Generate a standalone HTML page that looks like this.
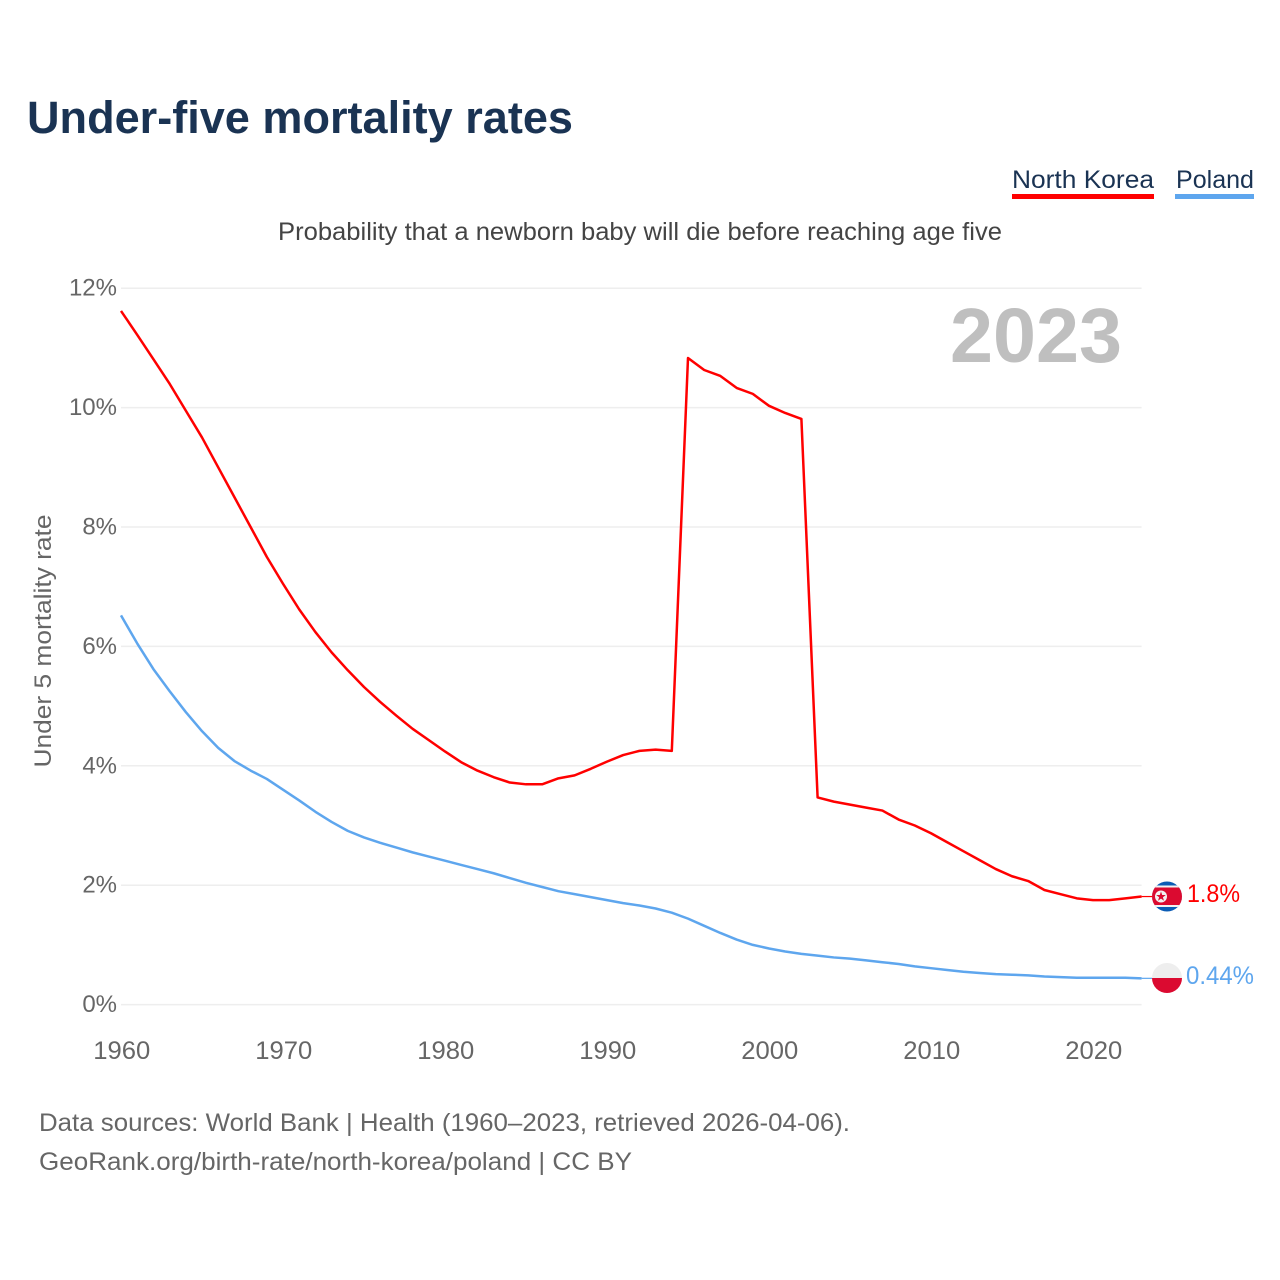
<!DOCTYPE html>
<html lang="en">
<head>
<meta charset="utf-8">
<title>Under-five mortality rates</title>
<style>
html,body{margin:0;padding:0;background:#fff;width:1280px;height:1280px;overflow:hidden}
svg{display:block}
text{font-family:"Liberation Sans",sans-serif}
</style>
</head>
<body>
<svg id="chart" xmlns="http://www.w3.org/2000/svg" width="1280" height="1280" viewBox="0 0 1280 1280">
  <defs>
    <clipPath id="clip-nk"><circle cx="1167" cy="896.5" r="15"/></clipPath>
    <clipPath id="clip-pl"><circle cx="1167" cy="978" r="15"/></clipPath>
  </defs>
  <text x="27" y="133" font-size="45" font-weight="700" fill="#1a3353" textLength="546" lengthAdjust="spacingAndGlyphs">Under-five mortality rates</text>

  <text x="1012" y="188" font-size="25" fill="#1a3353" textLength="142" lengthAdjust="spacingAndGlyphs">North Korea</text>
  <rect x="1012" y="194" width="142" height="5" fill="#ff0000"/>
  <text x="1176" y="188" font-size="25" fill="#1a3353" textLength="78" lengthAdjust="spacingAndGlyphs">Poland</text>
  <rect x="1175" y="194" width="79" height="5" fill="#5ea6ee"/>

  <text x="278" y="240" font-size="25" fill="#444" textLength="724" lengthAdjust="spacingAndGlyphs">Probability that a newborn baby will die before reaching age five</text>

  <g id="grid"></g>
  <g id="yticks"></g>
  <g id="xticks"></g>

  <text transform="translate(51,641) rotate(-90)" text-anchor="middle" font-size="24.5" fill="#666" textLength="253" lengthAdjust="spacingAndGlyphs">Under 5 mortality rate</text>

  <text x="950" y="362" font-size="77" font-weight="700" fill="#bfbfbf" textLength="172" lengthAdjust="spacingAndGlyphs">2023</text>

  <g id="series"></g>

  <g clip-path="url(#clip-nk)">
    <rect x="1150" y="880" width="34" height="34" fill="#0b5cb5"/>
    <rect x="1150" y="885.5" width="34" height="21.5" fill="#f2f2f2"/>
    <rect x="1150" y="887.5" width="34" height="17.5" fill="#db0a30"/>
    <circle cx="1161" cy="896.5" r="6" fill="#f2f2f2"/>
    <polygon points="1161,891.5 1162.2,895 1165.8,895 1162.9,897.2 1164,900.7 1161,898.6 1158,900.7 1159.1,897.2 1156.2,895 1159.8,895" fill="#db0a30"/>
  </g>
  <g clip-path="url(#clip-pl)">
    <rect x="1150" y="962" width="34" height="16" fill="#eeeeee"/>
    <rect x="1150" y="978" width="34" height="17" fill="#db0a30"/>
  </g>

  <text x="1187" y="902" font-size="25" fill="#ff0000" textLength="53" lengthAdjust="spacingAndGlyphs">1.8%</text>
  <text x="1186" y="984" font-size="25" fill="#5ea6ee" textLength="68" lengthAdjust="spacingAndGlyphs">0.44%</text>

  <text x="39" y="1131" font-size="25" fill="#666" textLength="811" lengthAdjust="spacingAndGlyphs">Data sources: World Bank | Health (1960–2023, retrieved 2026-04-06).</text>
  <text x="39" y="1170" font-size="25" fill="#666" textLength="593" lengthAdjust="spacingAndGlyphs">GeoRank.org/birth-rate/north-korea/poland | CC BY</text>
</svg>
<script>
const startYear = 1960;
const northKorea = [11.62,11.22,10.81,10.4,9.95,9.5,9.0,8.5,8.0,7.5,7.05,6.62,6.24,5.9,5.6,5.32,5.07,4.84,4.62,4.43,4.24,4.06,3.92,3.81,3.72,3.69,3.69,3.79,3.84,3.95,4.07,4.18,4.25,4.27,4.25,10.83,10.63,10.53,10.33,10.23,10.03,9.91,9.81,3.47,3.4,3.35,3.3,3.25,3.1,3.0,2.87,2.72,2.57,2.42,2.27,2.15,2.07,1.92,1.85,1.78,1.75,1.75,1.78,1.81];
const poland = [6.52,6.05,5.62,5.25,4.9,4.58,4.3,4.08,3.92,3.78,3.6,3.42,3.23,3.06,2.91,2.8,2.71,2.63,2.55,2.48,2.41,2.34,2.27,2.2,2.12,2.04,1.97,1.9,1.85,1.8,1.75,1.7,1.66,1.61,1.54,1.44,1.32,1.2,1.09,1.0,0.94,0.89,0.85,0.82,0.79,0.77,0.74,0.71,0.68,0.64,0.61,0.58,0.55,0.53,0.51,0.5,0.49,0.47,0.46,0.45,0.45,0.45,0.45,0.44];
const yTickValues = [0,2,4,6,8,10,12];
const xTickValues = [1960,1970,1980,1990,2000,2010,2020];

const NS = 'http://www.w3.org/2000/svg';
function xScale(year){ return 121 + (year - 1960) * 16.2; }
function yScale(v){ return 1004.6 - v * 59.7; }
function make(tag, parent, attrs, txt){
  const el = document.createElementNS(NS, tag);
  for (const k in attrs) el.setAttribute(k, attrs[k]);
  if (txt !== undefined) el.textContent = txt;
  parent.appendChild(el);
  return el;
}
const gridG = document.getElementById('grid');
const yG = document.getElementById('yticks');
const xG = document.getElementById('xticks');
const seriesG = document.getElementById('series');

yTickValues.forEach(function(v){
  const line = make('line', gridG, {x1:121, x2:xScale(2023), y1:yScale(v), y2:yScale(v), stroke:'#eeeeee', 'stroke-width':1.5});
  
  
  const label = make('text', yG, {x:117, y:yScale(v)+7.5, 'text-anchor':'end', 'font-size':24, fill:'#666'}, v + '%');
  
  
});
xTickValues.forEach(function(y){
  const label = make('text', xG, {x:xScale(y)+0.8, y:1059, 'text-anchor':'middle', 'font-size':25, fill:'#666', textLength:57, lengthAdjust:'spacingAndGlyphs'}, String(y));
  
  
});
function pathFor(values){
  return values.map(function(v, i){
    return (i ? 'L' : 'M') + xScale(startYear + i).toFixed(2) + ' ' + yScale(v).toFixed(2);
  }).join(' ');
}
function drawSeries(values, color, name){
  const p = make('path', seriesG, {d:pathFor(values), fill:'none', stroke:color, 'stroke-width':2.5, 'stroke-linejoin':'round'});
  
  
  const lastY = yScale(values[values.length - 1]);
  const c = make('line', seriesG, {x1:xScale(startYear + values.length - 1), x2:1152, y1:lastY, y2:lastY, stroke:color, 'stroke-width':1.2});
  
  
}
drawSeries(northKorea, '#ff0000', 'north-korea');
drawSeries(poland, '#5ea6ee', 'poland');
</script>
</body>
</html>
